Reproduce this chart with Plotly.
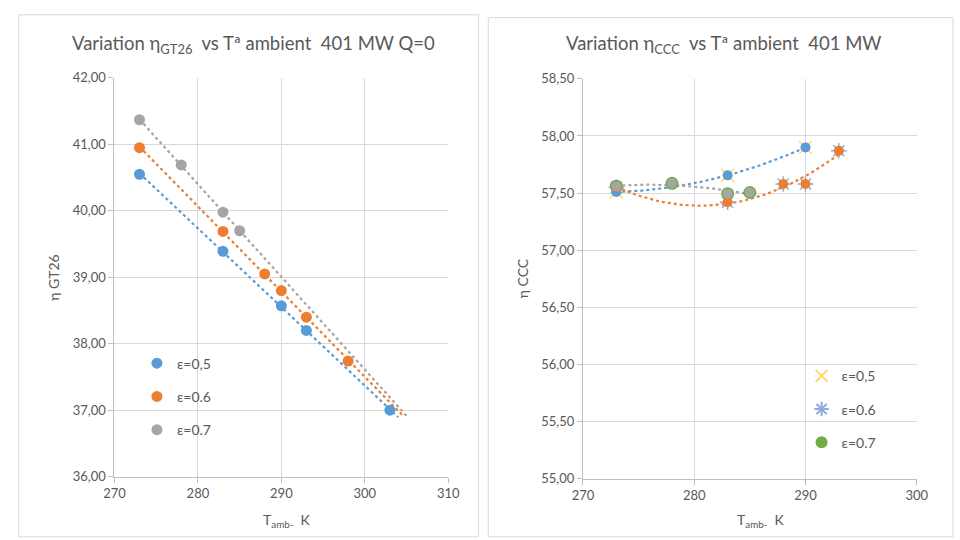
import numpy as np
import plotly.graph_objects as go

# ---------------- data ----------------
# Left chart: eta GT26 vs ambient temperature
gt_labels = ["ε=0,5", "ε=0.6", "ε=0.7"]
gt_x_05 = [273, 283, 290, 293, 303]
gt_y_05 = [40.55, 39.39, 38.57, 38.20, 37.00]
gt_x_06 = [273, 283, 288, 290, 293, 298]
gt_y_06 = [40.95, 39.69, 39.05, 38.80, 38.40, 37.74]
gt_x_07 = [273, 278, 283, 285]
gt_y_07 = [41.37, 40.69, 39.98, 39.70]
gt_trend_end = [304.0, 304.7, 305.0]

# Right chart: eta CCC vs ambient temperature
cc_labels = ["ε=0,5", "ε=0.6", "ε=0.7"]
cc_x_05 = [273, 283, 290]
cc_y_05 = [57.51, 57.655, 57.90]
cc_x_06 = [273, 283, 288, 290, 293]
cc_y_06 = [57.55, 57.42, 57.58, 57.58, 57.87]
cc_x_07 = [273, 278, 283, 285]
cc_y_07 = [57.56, 57.585, 57.495, 57.505]

gt_ticks_x = [270, 280, 290, 300, 310]
gt_ticks_y = [36, 37, 38, 39, 40, 41, 42]
cc_ticks_x = [270, 280, 290, 300]
cc_ticks_y = [55.0, 55.5, 56.0, 56.5, 57.0, 57.5, 58.0, 58.5]

# ---------------- styles ----------------
C_BLUE = "#5B9BD5"
C_ORANGE = "#ED7D31"
C_GRAY = "#A5A5A5"
C_YEL = "#FFD966"
C_AST = "#8FAADC"
C_GREEN = "#70AD47"
TXT = "#595959"
GRID = "#D9D9D9"
FONT = "Lato, Open Sans, sans-serif"

W, H = 960, 540


def px(x):
    return x / W


def py(y):
    return 1 - y / H


fig = go.Figure()

# ---- left chart ----
gt_sets = [(gt_x_05, gt_y_05, C_BLUE), (gt_x_06, gt_y_06, C_ORANGE), (gt_x_07, gt_y_07, C_GRAY)]
for (xs, ys, col), end in zip(gt_sets, gt_trend_end):
    k = np.polyfit(xs, ys, 1)
    tx = np.linspace(xs[0], end, 40)
    fig.add_trace(go.Scatter(x=tx, y=np.polyval(k, tx), mode="lines",
                             line=dict(color=col, width=2.2, dash="dot"),
                             showlegend=False, hoverinfo="skip",
                             xaxis="x", yaxis="y"))
for (xs, ys, col), name in zip(gt_sets, gt_labels):
    fig.add_trace(go.Scatter(x=xs, y=ys, mode="markers", name=name,
                             marker=dict(color=col, size=11),
                             legend="legend", legendgroup="l" + name,
                             xaxis="x", yaxis="y"))

# ---- right chart ----
cc_sets = [(cc_x_05, cc_y_05, C_BLUE), (cc_x_06, cc_y_06, C_ORANGE), (cc_x_07, cc_y_07, C_GRAY)]
for xs, ys, col in cc_sets:
    k = np.polyfit(xs, ys, 2)
    tx = np.linspace(xs[0], xs[-1], 60)
    fig.add_trace(go.Scatter(x=tx, y=np.polyval(k, tx), mode="lines",
                             line=dict(color=col, width=2.2, dash="dot"),
                             showlegend=False, hoverinfo="skip",
                             xaxis="x2", yaxis="y2"))
# overlay series (shown in legend)
overlay_styles = [
    dict(symbol="x-thin", size=13, color=C_YEL, line=dict(color=C_YEL, width=1.4)),
    dict(symbol="asterisk", size=13, color=C_AST, line=dict(color=C_AST, width=1.4)),
    dict(symbol="circle", size=13, color=C_GREEN),
]
for (xs, ys, col), name, st in zip(cc_sets, cc_labels, overlay_styles):
    fig.add_trace(go.Scatter(x=xs, y=ys, mode="markers", name=name,
                             marker=st, legend="legend2", legendgroup="r" + name,
                             xaxis="x2", yaxis="y2"))
for xs, ys, col in cc_sets:
    fig.add_trace(go.Scatter(x=xs, y=ys, mode="markers",
                             marker=dict(color=col, size=10),
                             showlegend=False, xaxis="x2", yaxis="y2"))

axis_common = dict(showgrid=True, gridcolor=GRID, gridwidth=1,
                   showline=True, linecolor="#BFBFBF", linewidth=1,
                   ticks="outside", ticklen=5, tickcolor="#BFBFBF",
                   tickfont=dict(family=FONT, size=13, color=TXT),
                   zeroline=False, fixedrange=True)

fig.update_layout(
    width=W, height=H,
    margin=dict(l=0, r=0, t=0, b=0),
    paper_bgcolor="white", plot_bgcolor="white",
    separators=",.",
    font=dict(family=FONT, color=TXT),
    xaxis=dict(domain=[px(106), px(448)], range=[270, 310], tickvals=gt_ticks_x,
               anchor="y", **axis_common),
    yaxis=dict(domain=[py(483), py(72)], range=[36, 42], tickvals=gt_ticks_y,
               tickformat=".2f", anchor="x", **axis_common),
    xaxis2=dict(domain=[px(586), px(928)], range=[270, 300], tickvals=cc_ticks_x,
                anchor="y2", **axis_common),
    yaxis2=dict(domain=[py(485), py(73)], range=[55, 58.5], tickvals=cc_ticks_y,
                tickformat=".2f", anchor="x2", **axis_common),
    legend=dict(x=px(129), y=py(350), xanchor="left", yanchor="top",
                bgcolor="rgba(0,0,0,0)", tracegroupgap=12,
                font=dict(family=FONT, size=14, color=TXT)),
    legend2=dict(x=px(810), y=py(363), xanchor="left", yanchor="top",
                 bgcolor="rgba(0,0,0,0)", tracegroupgap=12, itemsizing="constant",
                 font=dict(family=FONT, size=14, color=TXT)),
)

# panel frames
fig.add_shape(type="rect", xref="paper", yref="paper",
              x0=px(8), x1=px(479), y0=py(545), y1=py(7),
              line=dict(color="#D9D9D9", width=1))
fig.add_shape(type="rect", xref="paper", yref="paper",
              x0=px(489), x1=px(965), y0=py(545), y1=py(10),
              line=dict(color="#D9D9D9", width=1))

ann = [
    dict(x=px(248), y=py(38), text="Variation η<sub>GT26</sub>  vs Tª ambient  401 MW Q=0",
         size=18.5),
    dict(x=px(730), y=py(38), text="Variation η<sub>CCC</sub>  vs Tª ambient  401 MW",
         size=18.5),
    dict(x=px(283), y=py(528), text="T<sub>amb-</sub>  K", size=14),
    dict(x=px(768), y=py(528), text="T<sub>amb-</sub>  K", size=14),
]
for a in ann:
    fig.add_annotation(x=a["x"], y=a["y"], xref="paper", yref="paper",
                       text=a["text"], showarrow=False, xanchor="center", yanchor="middle",
                       font=dict(family=FONT, size=a["size"], color=TXT))
fig.add_annotation(x=px(44), y=py(278), xref="paper", yref="paper", text="η GT26",
                   textangle=-90, showarrow=False, xanchor="center", yanchor="middle",
                   font=dict(family=FONT, size=14, color=TXT))
fig.add_annotation(x=px(524), y=py(278), xref="paper", yref="paper", text="η CCC",
                   textangle=-90, showarrow=False, xanchor="center", yanchor="middle",
                   font=dict(family=FONT, size=14, color=TXT))

fig.write_html("out.html")
